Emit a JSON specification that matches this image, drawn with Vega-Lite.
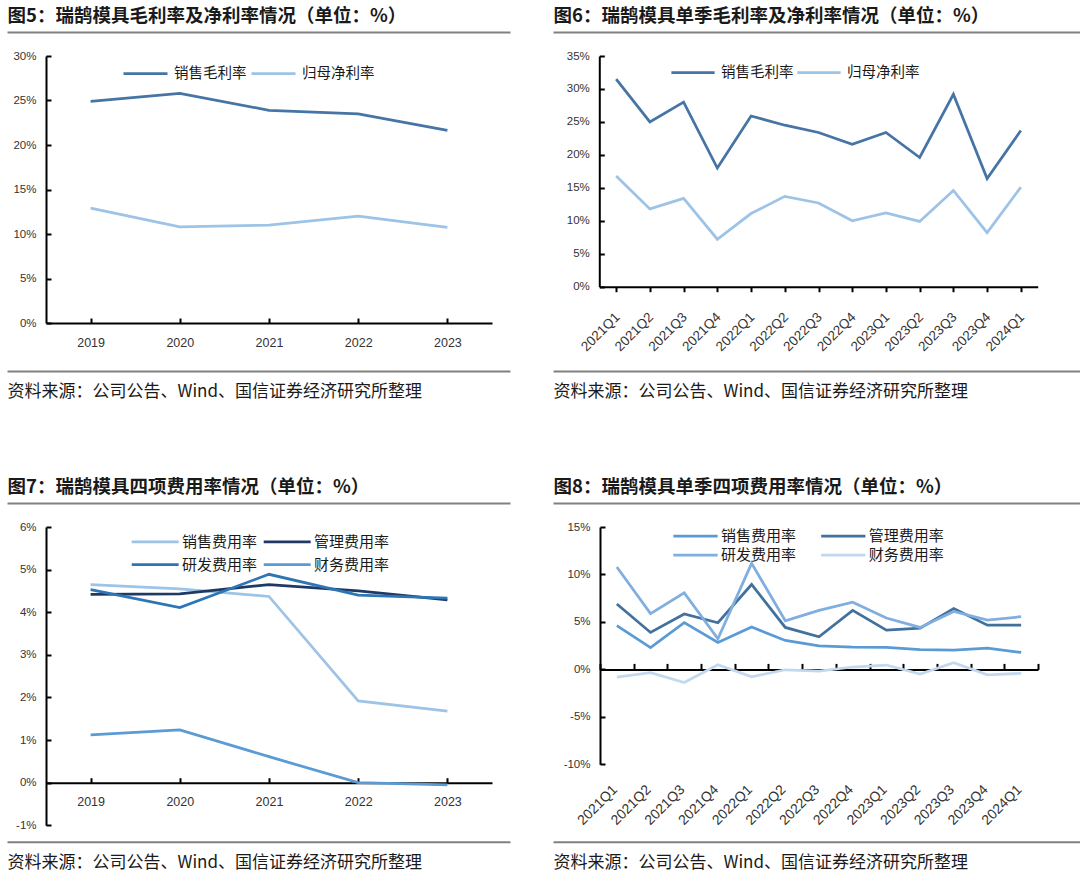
{
  "$schema": "https://vega.github.io/schema/vega-lite/v6.json",
  "padding": {"left": 7, "top": 0, "right": 0, "bottom": 38},
  "background": "white",
  "columns": 2,
  "bounds": "flush",
  "align": "each",
  "spacing": {"row": 0, "column": 43},
  "resolve": {"scale": {"color": "independent"}, "legend": {"color": "independent"}},
  "config": {
    "view": {"stroke": null},
    "font": "Noto Sans CJK SC",
    "axis": {"grid": false},
    "line": {"strokeWidth": 2.75}
  },
  "datasets": {
    "header": [{"k": "a"}],
    "p5": [
      {"year": "2019", "s": "销售毛利率", "v": 24.9},
      {"year": "2020", "s": "销售毛利率", "v": 25.8},
      {"year": "2021", "s": "销售毛利率", "v": 23.9},
      {"year": "2022", "s": "销售毛利率", "v": 23.5},
      {"year": "2023", "s": "销售毛利率", "v": 21.65},
      {"year": "2019", "s": "归母净利率", "v": 12.9},
      {"year": "2020", "s": "归母净利率", "v": 10.8},
      {"year": "2021", "s": "归母净利率", "v": 11.0},
      {"year": "2022", "s": "归母净利率", "v": 12.0},
      {"year": "2023", "s": "归母净利率", "v": 10.75}
    ],
    "p6": [
      {"q": "2021Q1", "s": "销售毛利率", "v": 31.5},
      {"q": "2021Q2", "s": "销售毛利率", "v": 25.0},
      {"q": "2021Q3", "s": "销售毛利率", "v": 28.0},
      {"q": "2021Q4", "s": "销售毛利率", "v": 18.0},
      {"q": "2022Q1", "s": "销售毛利率", "v": 25.9},
      {"q": "2022Q2", "s": "销售毛利率", "v": 24.5},
      {"q": "2022Q3", "s": "销售毛利率", "v": 23.4},
      {"q": "2022Q4", "s": "销售毛利率", "v": 21.6},
      {"q": "2023Q1", "s": "销售毛利率", "v": 23.4},
      {"q": "2023Q2", "s": "销售毛利率", "v": 19.6},
      {"q": "2023Q3", "s": "销售毛利率", "v": 29.2},
      {"q": "2023Q4", "s": "销售毛利率", "v": 16.4},
      {"q": "2024Q1", "s": "销售毛利率", "v": 23.7},
      {"q": "2021Q1", "s": "归母净利率", "v": 16.8},
      {"q": "2021Q2", "s": "归母净利率", "v": 11.8},
      {"q": "2021Q3", "s": "归母净利率", "v": 13.4},
      {"q": "2021Q4", "s": "归母净利率", "v": 7.2},
      {"q": "2022Q1", "s": "归母净利率", "v": 11.1},
      {"q": "2022Q2", "s": "归母净利率", "v": 13.7},
      {"q": "2022Q3", "s": "归母净利率", "v": 12.7},
      {"q": "2022Q4", "s": "归母净利率", "v": 10.0},
      {"q": "2023Q1", "s": "归母净利率", "v": 11.2},
      {"q": "2023Q2", "s": "归母净利率", "v": 9.9},
      {"q": "2023Q3", "s": "归母净利率", "v": 14.6},
      {"q": "2023Q4", "s": "归母净利率", "v": 8.2},
      {"q": "2024Q1", "s": "归母净利率", "v": 15.1}
    ],
    "p7": [
      {"year": "2019", "s": "销售费用率", "v": 4.65},
      {"year": "2020", "s": "销售费用率", "v": 4.55},
      {"year": "2021", "s": "销售费用率", "v": 4.37},
      {"year": "2022", "s": "销售费用率", "v": 1.92},
      {"year": "2023", "s": "销售费用率", "v": 1.68},
      {"year": "2019", "s": "管理费用率", "v": 4.42},
      {"year": "2020", "s": "管理费用率", "v": 4.43},
      {"year": "2021", "s": "管理费用率", "v": 4.65},
      {"year": "2022", "s": "管理费用率", "v": 4.5},
      {"year": "2023", "s": "管理费用率", "v": 4.29},
      {"year": "2019", "s": "研发费用率", "v": 4.53},
      {"year": "2020", "s": "研发费用率", "v": 4.11},
      {"year": "2021", "s": "研发费用率", "v": 4.89},
      {"year": "2022", "s": "研发费用率", "v": 4.4},
      {"year": "2023", "s": "研发费用率", "v": 4.33},
      {"year": "2019", "s": "财务费用率", "v": 1.12},
      {"year": "2020", "s": "财务费用率", "v": 1.24},
      {"year": "2021", "s": "财务费用率", "v": 0.61},
      {"year": "2022", "s": "财务费用率", "v": 0.0},
      {"year": "2023", "s": "财务费用率", "v": -0.05}
    ],
    "p8": [
      {"q": "2021Q1", "s": "销售费用率", "v": 4.6},
      {"q": "2021Q2", "s": "销售费用率", "v": 2.3},
      {"q": "2021Q3", "s": "销售费用率", "v": 4.92},
      {"q": "2021Q4", "s": "销售费用率", "v": 2.83},
      {"q": "2022Q1", "s": "销售费用率", "v": 4.46},
      {"q": "2022Q2", "s": "销售费用率", "v": 3.05},
      {"q": "2022Q3", "s": "销售费用率", "v": 2.48},
      {"q": "2022Q4", "s": "销售费用率", "v": 2.34},
      {"q": "2023Q1", "s": "销售费用率", "v": 2.32},
      {"q": "2023Q2", "s": "销售费用率", "v": 2.08},
      {"q": "2023Q3", "s": "销售费用率", "v": 2.04},
      {"q": "2023Q4", "s": "销售费用率", "v": 2.24},
      {"q": "2024Q1", "s": "销售费用率", "v": 1.78},
      {"q": "2021Q1", "s": "管理费用率", "v": 6.89},
      {"q": "2021Q2", "s": "管理费用率", "v": 3.89},
      {"q": "2021Q3", "s": "管理费用率", "v": 5.83},
      {"q": "2021Q4", "s": "管理费用率", "v": 4.91},
      {"q": "2022Q1", "s": "管理费用率", "v": 8.94},
      {"q": "2022Q2", "s": "管理费用率", "v": 4.42},
      {"q": "2022Q3", "s": "管理费用率", "v": 3.43},
      {"q": "2022Q4", "s": "管理费用率", "v": 6.22},
      {"q": "2023Q1", "s": "管理费用率", "v": 4.13},
      {"q": "2023Q2", "s": "管理费用率", "v": 4.35},
      {"q": "2023Q3", "s": "管理费用率", "v": 6.4},
      {"q": "2023Q4", "s": "管理费用率", "v": 4.66},
      {"q": "2024Q1", "s": "管理费用率", "v": 4.66},
      {"q": "2021Q1", "s": "研发费用率", "v": 10.78},
      {"q": "2021Q2", "s": "研发费用率", "v": 5.87},
      {"q": "2021Q3", "s": "研发费用率", "v": 8.06},
      {"q": "2021Q4", "s": "研发费用率", "v": 3.22},
      {"q": "2022Q1", "s": "研发费用率", "v": 11.17},
      {"q": "2022Q2", "s": "研发费用率", "v": 5.12},
      {"q": "2022Q3", "s": "研发费用率", "v": 6.22},
      {"q": "2022Q4", "s": "研发费用率", "v": 7.07},
      {"q": "2023Q1", "s": "研发费用率", "v": 5.41},
      {"q": "2023Q2", "s": "研发费用率", "v": 4.42},
      {"q": "2023Q3", "s": "研发费用率", "v": 6.11},
      {"q": "2023Q4", "s": "研发费用率", "v": 5.19},
      {"q": "2024Q1", "s": "研发费用率", "v": 5.55},
      {"q": "2021Q1", "s": "财务费用率", "v": -0.81},
      {"q": "2021Q2", "s": "财务费用率", "v": -0.35},
      {"q": "2021Q3", "s": "财务费用率", "v": -1.38},
      {"q": "2021Q4", "s": "财务费用率", "v": 0.49},
      {"q": "2022Q1", "s": "财务费用率", "v": -0.78},
      {"q": "2022Q2", "s": "财务费用率", "v": -0.04},
      {"q": "2022Q3", "s": "财务费用率", "v": -0.18},
      {"q": "2022Q4", "s": "财务费用率", "v": 0.25},
      {"q": "2023Q1", "s": "财务费用率", "v": 0.46},
      {"q": "2023Q2", "s": "财务费用率", "v": -0.49},
      {"q": "2023Q3", "s": "财务费用率", "v": 0.71},
      {"q": "2023Q4", "s": "财务费用率", "v": -0.57},
      {"q": "2024Q1", "s": "财务费用率", "v": -0.42}
    ]
  },
  "concat": [
    {
      "width": 503, "height": 56,
      "data": {"name": "header"},
      "mark": {"type": "point", "opacity": 0},
      "encoding": {"x": {"field": "k", "type": "nominal", "axis": {"orient": "top", "offset": -32, "domainColor": "#808080", "domainWidth": 2, "ticks": false, "labels": false, "title": "图5：瑞鹄模具毛利率及净利率情况（单位：%）", "titleAnchor": "start", "titleFont": "Noto Sans CJK SC", "titleFontSize": 18.5, "titleFontWeight": "bold", "titleColor": "#1a1a1a", "titlePadding": 7, "titleLimit": 0}}}
    },
    {
      "width": 527, "height": 56,
      "data": {"name": "header"},
      "mark": {"type": "point", "opacity": 0},
      "encoding": {"x": {"field": "k", "type": "nominal", "axis": {"orient": "top", "offset": -32, "domainColor": "#808080", "domainWidth": 2, "ticks": false, "labels": false, "title": "图6：瑞鹄模具单季毛利率及净利率情况（单位：%）", "titleAnchor": "start", "titleFont": "Noto Sans CJK SC", "titleFontSize": 18.5, "titleFontWeight": "bold", "titleColor": "#1a1a1a", "titlePadding": 7, "titleLimit": 0}}}
    },
    {
      "width": 503, "height": 267,
      "data": {"name": "p5"},
      "mark": {"type": "line", "strokeWidth": 2.75},
      "encoding": {
        "x": {"field": "year", "type": "ordinal", "scale": {"type": "point", "range": [39, 485], "padding": 0.5},
          "axis": {"orient": "bottom", "title": null, "domainColor": "#000", "domainWidth": 2, "tickColor": "#000", "tickWidth": 2, "tickSize": -5, "labelPadding": 18, "labelAngle": 0, "labelFont": "Liberation Sans", "labelFontSize": 12.5, "labelColor": "#333"}},
        "y": {"field": "v", "type": "quantitative", "scale": {"domain": [0, 30], "nice": false},
          "axis": {"orient": "left", "offset": -39, "values": [0, 5, 10, 15, 20, 25, 30], "labelExpr": "datum.value + '%'", "title": null, "domainColor": "#000", "domainWidth": 2, "tickColor": "#000", "tickWidth": 2, "tickSize": -5, "labelPadding": 15, "labelFont": "Liberation Sans", "labelFontSize": 11.5, "labelColor": "#333"}},
        "color": {"field": "s", "type": "nominal", "scale": {"domain": ["销售毛利率", "归母净利率"], "range": ["#4674a4", "#9dc3e6"]},
          "legend": {"orient": "none", "legendX": 115, "legendY": -6, "direction": "horizontal", "columns": 2, "title": null, "symbolType": "stroke", "symbolSize": 1936, "symbolStrokeWidth": 3, "labelFont": "Noto Sans CJK SC", "labelFontSize": 14.5, "labelColor": "#1a1a1a", "labelOffset": 5, "columnPadding": -1, "padding": 0}}
      }
    },
    {
      "width": 527, "height": 230.7,
      "data": {"name": "p6"},
      "mark": {"type": "line", "strokeWidth": 2.75},
      "encoding": {
        "x": {"field": "q", "type": "ordinal", "scale": {"type": "point", "range": [46.3, 484.7], "padding": 0.5},
          "axis": {"orient": "bottom", "title": null, "domainColor": "#000", "domainWidth": 2, "tickColor": "#000", "tickWidth": 2, "tickSize": 5, "labelPadding": 18, "labelOffset": -4, "labelAngle": -45, "labelFont": "Liberation Sans", "labelFontSize": 13.5, "labelColor": "#333"}},
        "y": {"field": "v", "type": "quantitative", "scale": {"domain": [0, 35], "nice": false},
          "axis": {"orient": "left", "offset": -46.3, "values": [0, 5, 10, 15, 20, 25, 30, 35], "labelExpr": "datum.value + '%'", "title": null, "domainColor": "#000", "domainWidth": 2, "tickColor": "#000", "tickWidth": 2, "tickSize": -5, "labelPadding": 15, "labelFont": "Liberation Sans", "labelFontSize": 11.5, "labelColor": "#333"}},
        "color": {"field": "s", "type": "nominal", "scale": {"domain": ["销售毛利率", "归母净利率"], "range": ["#4674a4", "#9dc3e6"]},
          "legend": {"orient": "none", "legendX": 117, "legendY": -6.6, "direction": "horizontal", "columns": 2, "title": null, "symbolType": "stroke", "symbolSize": 1870, "symbolStrokeWidth": 3, "labelFont": "Noto Sans CJK SC", "labelFontSize": 14.5, "labelColor": "#1a1a1a", "labelOffset": 5, "columnPadding": -3, "padding": 0}}
      }
    },
    {
      "width": 503, "height": 48,
      "data": {"name": "header"},
      "mark": {"type": "point", "opacity": 0},
      "encoding": {"x": {"field": "k", "type": "nominal", "axis": {"orient": "bottom", "domainColor": "#808080", "domainWidth": 2, "ticks": false, "labels": false, "title": "资料来源：公司公告、Wind、国信证券经济研究所整理", "titleAnchor": "start", "titleFont": "Noto Sans CJK SC", "titleFontSize": 17, "titleFontWeight": "normal", "titleColor": "#1a1a1a", "titlePadding": 12, "titleLimit": 0}}}
    },
    {
      "width": 527, "height": 48,
      "data": {"name": "header"},
      "mark": {"type": "point", "opacity": 0},
      "encoding": {"x": {"field": "k", "type": "nominal", "axis": {"orient": "bottom", "domainColor": "#808080", "domainWidth": 2, "ticks": false, "labels": false, "title": "资料来源：公司公告、Wind、国信证券经济研究所整理", "titleAnchor": "start", "titleFont": "Noto Sans CJK SC", "titleFontSize": 17, "titleFontWeight": "normal", "titleColor": "#1a1a1a", "titlePadding": 12, "titleLimit": 0}}}
    },
    {
      "width": 503, "height": 156,
      "data": {"name": "header"},
      "mark": {"type": "point", "opacity": 0},
      "encoding": {"x": {"field": "k", "type": "nominal", "axis": {"orient": "top", "offset": -132, "domainColor": "#808080", "domainWidth": 2, "ticks": false, "labels": false, "title": "图7：瑞鹄模具四项费用率情况（单位：%）", "titleAnchor": "start", "titleFont": "Noto Sans CJK SC", "titleFontSize": 18.5, "titleFontWeight": "bold", "titleColor": "#1a1a1a", "titlePadding": 7, "titleLimit": 0}}}
    },
    {
      "width": 527, "height": 156,
      "data": {"name": "header"},
      "mark": {"type": "point", "opacity": 0},
      "encoding": {"x": {"field": "k", "type": "nominal", "axis": {"orient": "top", "offset": -132, "domainColor": "#808080", "domainWidth": 2, "ticks": false, "labels": false, "title": "图8：瑞鹄模具单季四项费用率情况（单位：%）", "titleAnchor": "start", "titleFont": "Noto Sans CJK SC", "titleFontSize": 18.5, "titleFontWeight": "bold", "titleColor": "#1a1a1a", "titlePadding": 7, "titleLimit": 0}}}
    },
    {
      "width": 503, "height": 298.3,
      "data": {"name": "p7"},
      "mark": {"type": "line", "strokeWidth": 2.75},
      "encoding": {
        "x": {"field": "year", "type": "ordinal", "scale": {"type": "point", "range": [39, 485], "padding": 0.5},
          "axis": {"orient": "bottom", "offset": -42.6, "title": null, "domainColor": "#000", "domainWidth": 2, "tickColor": "#000", "tickWidth": 2, "tickSize": -5, "labelPadding": 18, "labelAngle": 0, "labelFont": "Liberation Sans", "labelFontSize": 12.5, "labelColor": "#333"}},
        "y": {"field": "v", "type": "quantitative", "scale": {"domain": [-1, 6], "nice": false},
          "axis": {"orient": "left", "offset": -39, "values": [-1, 0, 1, 2, 3, 4, 5, 6], "labelExpr": "datum.value + '%'", "title": null, "domainColor": "#000", "domainWidth": 2, "tickColor": "#000", "tickWidth": 2, "tickSize": -5, "labelPadding": 15, "labelFont": "Liberation Sans", "labelFontSize": 11.5, "labelColor": "#333"}},
        "color": {"field": "s", "type": "nominal", "scale": {"domain": ["销售费用率", "管理费用率", "研发费用率", "财务费用率"], "range": ["#9dc3e6", "#1f3864", "#2e75b6", "#5b9bd5"]},
          "legend": {"orient": "none", "legendX": 138.7, "legendY": 5, "direction": "horizontal", "columns": 2, "title": null, "symbolType": "M-3,0H3", "symbolSize": 245, "symbolStrokeWidth": 3, "labelFont": "Noto Sans CJK SC", "labelFontSize": 15, "labelColor": "#1a1a1a", "labelOffset": 17.3, "columnPadding": 0, "rowPadding": 5, "padding": 0}}
      }
    },
    {
      "width": 527, "height": 237.3,
      "data": {"name": "p8"},
      "layer": [
        {
          "mark": {"type": "line", "strokeWidth": 2.75},
          "encoding": {
            "x": {"field": "q", "type": "ordinal", "scale": {"type": "point", "range": [47, 485], "padding": 0.5},
              "axis": {"orient": "bottom", "title": null, "domain": false, "ticks": false, "labelPadding": 18, "labelOffset": -7, "labelAngle": -45, "labelFont": "Liberation Sans", "labelFontSize": 14, "labelColor": "#333"}},
            "y": {"field": "v", "type": "quantitative", "scale": {"domain": [-10, 15], "nice": false},
              "axis": {"orient": "left", "offset": -47, "values": [-10, -5, 0, 5, 10, 15], "labelExpr": "datum.value + '%'", "title": null, "domainColor": "#000", "domainWidth": 2, "tickColor": "#000", "tickWidth": 2, "tickSize": -5, "labelPadding": 15, "labelFont": "Liberation Sans", "labelFontSize": 11.5, "labelColor": "#333"}},
            "color": {"field": "s", "type": "nominal", "scale": {"domain": ["销售费用率", "管理费用率", "研发费用率", "财务费用率"], "range": ["#5b9bd5", "#41719c", "#80aee0", "#c2d8ef"]},
              "legend": {"orient": "none", "legendX": 133.5, "legendY": 0, "direction": "horizontal", "columns": 2, "title": null, "symbolType": "M-3,0H3", "symbolSize": 218, "symbolStrokeWidth": 3, "labelFont": "Noto Sans CJK SC", "labelFontSize": 15, "labelColor": "#1a1a1a", "labelOffset": 16.4, "columnPadding": 18.8, "rowPadding": 2, "padding": 0}}
          }
        },
        {
          "mark": {"type": "point", "opacity": 0},
          "encoding": {
            "x": {"field": "q", "type": "ordinal", "scale": {"type": "band", "range": [47, 485], "paddingInner": 0, "paddingOuter": 0},
              "axis": {"orient": "bottom", "offset": -94.9, "title": null, "labels": false, "tickBand": "extent", "domainColor": "#000", "domainWidth": 2, "tickColor": "#000", "tickWidth": 2, "tickSize": -6}}
          }
        }
      ],
      "resolve": {"scale": {"x": "independent"}, "axis": {"x": "independent"}}
    },
    {
      "width": 503, "height": 15.7,
      "data": {"name": "header"},
      "mark": {"type": "point", "opacity": 0},
      "encoding": {"x": {"field": "k", "type": "nominal", "axis": {"orient": "bottom", "domainColor": "#808080", "domainWidth": 2, "ticks": false, "labels": false, "title": "资料来源：公司公告、Wind、国信证券经济研究所整理", "titleAnchor": "start", "titleFont": "Noto Sans CJK SC", "titleFontSize": 17, "titleFontWeight": "normal", "titleColor": "#1a1a1a", "titlePadding": 13, "titleLimit": 0}}}
    },
    {
      "width": 527, "height": 15.7,
      "data": {"name": "header"},
      "mark": {"type": "point", "opacity": 0},
      "encoding": {"x": {"field": "k", "type": "nominal", "axis": {"orient": "bottom", "domainColor": "#808080", "domainWidth": 2, "ticks": false, "labels": false, "title": "资料来源：公司公告、Wind、国信证券经济研究所整理", "titleAnchor": "start", "titleFont": "Noto Sans CJK SC", "titleFontSize": 17, "titleFontWeight": "normal", "titleColor": "#1a1a1a", "titlePadding": 13, "titleLimit": 0}}}
    }
  ]
}
